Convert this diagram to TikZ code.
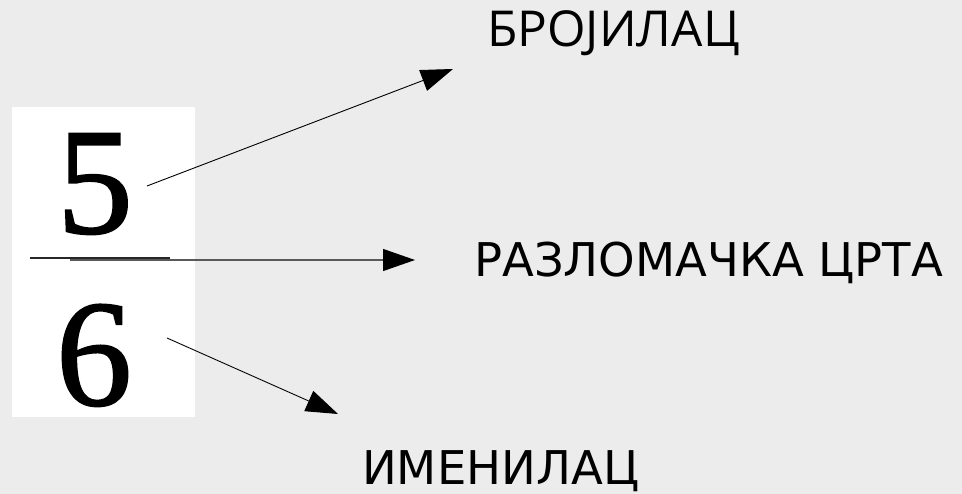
\documentclass[tikz,border=0pt]{standalone}
\usepackage{fontspec}
\setmainfont{Liberation Serif}
\newfontfamily\digitfont[FakeBold=1.2]{Liberation Serif}
\newfontfamily\lblfont{DejaVu Sans}
\newfontfamily\topfont{Open Sans}
\usetikzlibrary{arrows.meta}
\definecolor{bg}{HTML}{ECECEC}
\tikzset{
  lbl/.style={font=\lblfont\fontsize{46.5}{50}\selectfont, inner sep=0pt, anchor=base west},
  digit/.style={font=\digitfont\fontsize{152}{160}\selectfont, inner sep=0pt, anchor=base},
  pointer/.style={line width=0.9pt, -{Triangle[length=32pt,width=22pt,fill=black,color=black]}},
}
\begin{document}
\begin{tikzpicture}[x=1pt,y=-1pt]
  \fill[bg] (0,0) rectangle (962,494);
  \useasboundingbox (0,0) rectangle (962,494);
  \fill[white] (12,107) rectangle (195,417);
  \node[digit] (five) at (95,233) {5};
  \node[digit] (six) at (94,405) {6};
  \draw[line width=2.6pt, black!85] (30,258) -- (170,258);
  \node[lbl, font=\topfont\fontsize{49.5}{52}\selectfont] (num) at (487,47) {БРОЈИЛАЦ};
  \node[lbl] (bar) at (474,277) {РАЗЛОМАЧКА ЦРТА};
  \node[lbl] (den) at (362,485) {ИМЕНИЛАЦ};
  \coordinate (s1) at (147,186);
  \coordinate (t1) at (453,69);
  \coordinate (s2) at (70,260);
  \coordinate (t2) at (415,260);
  \coordinate (s3) at (167,338);
  \coordinate (t3) at (338,414);
  \draw[pointer] (s1) -- (t1);
  \draw[pointer, draw=black!65, line width=1.2pt] (s2) -- (t2);
  \draw[pointer] (s3) -- (t3);
\end{tikzpicture}
\end{document}
